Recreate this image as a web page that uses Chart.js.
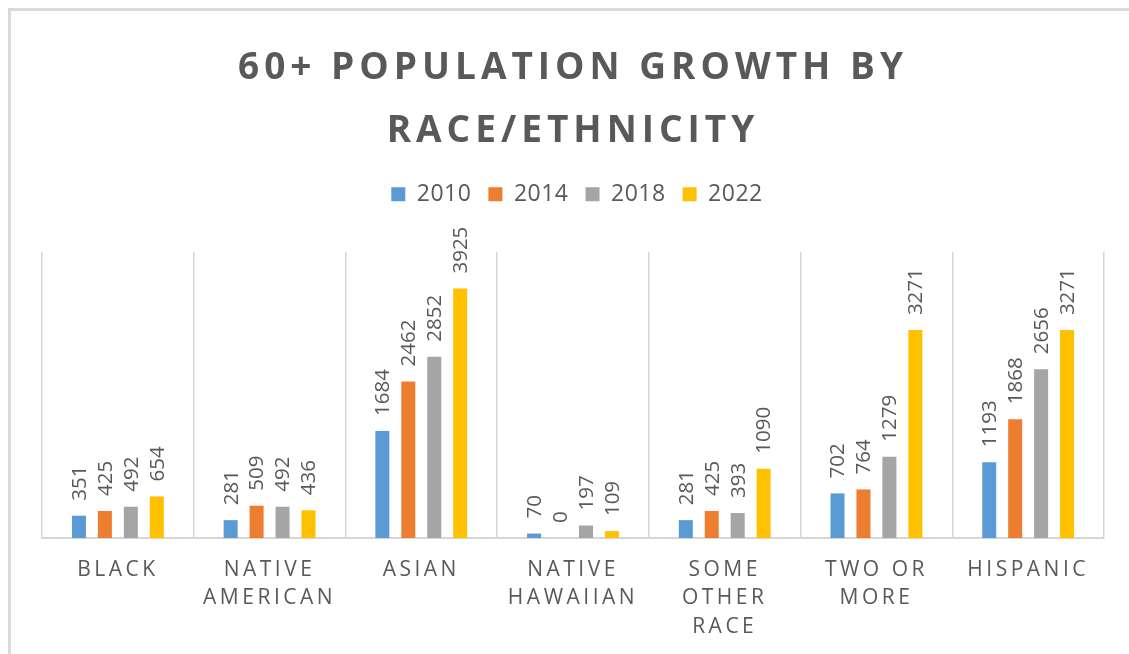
<!DOCTYPE html>
<html>
<head>
<meta charset="utf-8">
<script src="https://cdn.jsdelivr.net/npm/chart.js@4/dist/chart.umd.min.js"></script>
<style>
  html, body { margin: 0; padding: 0; background: #ffffff; }
  #wrap { position: relative; width: 1129px; height: 654px; overflow: hidden; }
  #frame { position: absolute; left: 8px; top: 8px; width: 1200px; height: 700px;
           border-top: 3px solid #dadada; border-left: 3px solid #dadada; pointer-events: none; }
  canvas { position: absolute; left: 0; top: 0; }
</style>
</head>
<body>
<div id="wrap">
  <canvas id="c" width="1129" height="654"></canvas>
  <div id="frame"></div>
</div>
<script>
const categories = [
  ['BLACK'],
  ['NATIVE', 'AMERICAN'],
  ['ASIAN'],
  ['NATIVE', 'HAWAIIAN'],
  ['SOME', 'OTHER', 'RACE'],
  ['TWO OR', 'MORE'],
  ['HISPANIC']
];
const seriesNames = ['2010', '2014', '2018', '2022'];
const values2010 = [351, 281, 1684, 70, 281, 702, 1193];
const values2014 = [425, 509, 2462, 0, 425, 764, 1868];
const values2018 = [492, 492, 2852, 197, 393, 1279, 2656];
const values2022 = [654, 436, 3925, 109, 1090, 3271, 3271];
const seriesColors = ['#5b9bd5', '#ed7d31', '#a5a5a5', '#ffc000'];
const titleLines = ['60+ POPULATION GROWTH BY', 'RACE/ETHNICITY'];
const yMax = 4500;

const TEXT = '#595959';
const FONT = "'Open Sans', 'DejaVu Sans', sans-serif";

function withSpacing(obj, method, spacing, ctxGetter) {
  if (!obj || obj['__sp_' + method]) return;
  const orig = obj[method];
  obj[method] = function (...args) {
    const ctx = ctxGetter();
    const prev = ctx.letterSpacing;
    ctx.letterSpacing = spacing;
    const r = orig.apply(this, args);
    ctx.letterSpacing = prev === undefined ? '0px' : prev;
    return r;
  };
  obj['__sp_' + method] = true;
}

const spacingPlugin = {
  id: 'spacingPlugin',
  beforeDraw(chart) {
    const g = () => chart.ctx;
    withSpacing(chart.titleBlock, 'draw', '5px', g);
    withSpacing(chart.legend, 'draw', '0.5px', g);
    withSpacing(chart.scales.x, 'drawLabels', '3.5px', g);
  }
};

const spacerPlugin = {
  id: 'spacerPlugin',
  beforeInit(chart) {
    Chart.layouts.addBox(chart, {
      position: 'top', weight: 0, fullSize: true,
      options: { stackWeight: 1 },
      left: 0, top: 0, right: 0, bottom: 0, width: 0, height: 0,
      isHorizontal() { return true; },
      update(maxW) { this.width = maxW; this.height = 36.2; },
      draw() {}
    });
  }
};

const valueLabels = {
  id: 'valueLabels',
  afterDatasetsDraw(chart) {
    const ctx = chart.ctx;
    ctx.save();
    ctx.letterSpacing = '0px';
    ctx.fillStyle = TEXT;
    ctx.font = "20.5px " + FONT;
    ctx.textAlign = 'left';
    ctx.textBaseline = 'middle';
    chart.data.datasets.forEach((ds, di) => {
      const meta = chart.getDatasetMeta(di);
      meta.data.forEach((bar, i) => {
        ctx.save();
        ctx.translate(bar.x + 1, bar.y - 15);
        ctx.rotate(-Math.PI / 2);
        ctx.fillText(String(ds.data[i]), 0, 0);
        ctx.restore();
      });
    });
    ctx.restore();
  }
};

const allValues = [values2010, values2014, values2018, values2022];

new Chart(document.getElementById('c'), {
  type: 'bar',
  data: {
    labels: categories,
    datasets: seriesNames.map((name, i) => ({
      label: name,
      data: allValues[i],
      backgroundColor: seriesColors[i],
      borderWidth: 0,
      categoryPercentage: 0.684,
      barPercentage: 0.54
    }))
  },
  options: {
    responsive: false,
    animation: false,
    devicePixelRatio: 1,
    layout: { padding: { left: 42, right: 25, top: 0, bottom: -5 } },
    plugins: {
      title: {
        display: true,
        text: titleLines,
        color: TEXT,
        font: { family: FONT, size: 37, weight: 'bold', lineHeight: 1.7 },
        padding: { top: 37, bottom: 3 }
      },
      legend: {
        display: true,
        position: 'top',
        labels: {
          color: TEXT,
          font: { family: FONT, size: 23 },
          boxWidth: 14,
          boxHeight: 14,
          padding: 17
        }
      },
      tooltip: { enabled: false }
    },
    scales: {
      x: {
        grid: { display: true, offset: true, drawTicks: false, color: '#d6d6d6', lineWidth: 1.5 },
        border: { display: true, color: '#d6d6d6', width: 2 },
        ticks: {
          color: TEXT,
          font: { family: FONT, size: 21, lineHeight: 1.357 },
          padding: 17.75,
          maxRotation: 0,
          minRotation: 0,
          autoSkip: false
        }
      },
      y: {
        display: false,
        min: 0,
        max: yMax
      }
    }
  },
  plugins: [spacerPlugin, spacingPlugin, valueLabels]
});
</script>
</body>
</html>
